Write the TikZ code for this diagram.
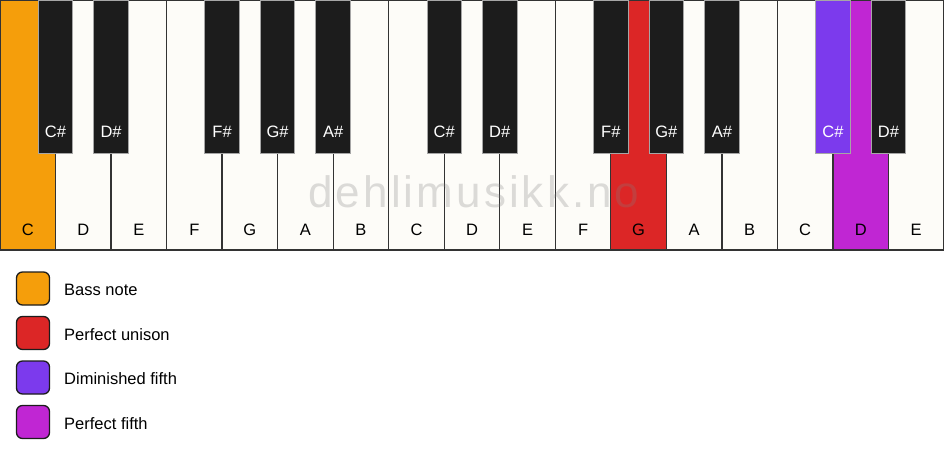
\documentclass[tikz,border=0pt]{standalone}
\usepackage{fontspec}
\setmainfont{Liberation Sans}
\newfontfamily\wmfont[LetterSpace=7]{Liberation Sans}
\definecolor{keyW}{HTML}{FDFCF8}
\definecolor{keyB}{HTML}{1C1C1C}
\definecolor{bassC}{HTML}{F59E0B}
\definecolor{unisonC}{HTML}{DC2626}
\definecolor{dimC}{HTML}{7C3AED}
\definecolor{fifthC}{HTML}{C026D3}
\definecolor{edgeC}{HTML}{333333}
\tikzset{
  whitekey/.style={draw=edgeC, line width=1.3pt, rectangle, inner sep=0pt,
    minimum width=55.53pt, minimum height=250pt},
  blackkey/.style={draw=gray!70, line width=0.9pt, rectangle, inner sep=0pt,
    minimum width=34.5pt, minimum height=153pt},
  keytext/.style={font=\fontsize{16.5}{20}\selectfont, inner sep=0pt},
  legbox/.style={draw=keyB, line width=1.3pt, rounded corners=6pt, rectangle,
    inner sep=0pt, minimum size=33pt},
  legtext/.style={font=\fontsize{16.5}{20}\selectfont, anchor=west, inner sep=0pt},
  watermark/.style={font=\wmfont\fontsize{44}{52}\selectfont, text=gray, opacity=0.27, inner sep=0pt, anchor=base}
}
\begin{document}
\begin{tikzpicture}[x=1pt,y=-1pt]
\useasboundingbox (0,0) rectangle (944,461);
\fill[white] (0,0) rectangle (944,461);
% white keys
\foreach \n/\c [count=\i from 0] in {C/bassC,D/keyW,E/keyW,F/keyW,G/keyW,A/keyW,B/keyW,C/keyW,D/keyW,E/keyW,F/keyW,G/unisonC,A/keyW,B/keyW,C/keyW,D/fifthC,E/keyW}{
  \node[whitekey, fill=\c] (w\i) at ({(\i+0.5)*944/17},125) {};
  \node[keytext] (wl\i) at ({(\i+0.5)*944/17},230) {\n};
}
% black keys
\foreach \b/\n/\c in {1/C\#/keyB,2/D\#/keyB,4/F\#/keyB,5/G\#/keyB,6/A\#/keyB,8/C\#/keyB,9/D\#/keyB,11/F\#/keyB,12/G\#/keyB,13/A\#/keyB,15/C\#/dimC,16/D\#/keyB}{
  \node[blackkey, fill=\c] (b\b) at ({\b*944/17},76.5) {};
  \node[keytext, text=white] (bl\b) at ({\b*944/17},132) {\n};
}
% watermark
\node[watermark] (wm) at (474,207) {dehlimusikk.no};
% legend
\node[legbox, fill=bassC] (lg1) at (33,288.5) {};
\node[legtext] (lt1) at (64,290) {Bass note};
\node[legbox, fill=unisonC] (lg2) at (33,333) {};
\node[legtext] (lt2) at (64,334.5) {Perfect unison};
\node[legbox, fill=dimC] (lg3) at (33,377.5) {};
\node[legtext] (lt3) at (64,379) {Diminished fifth};
\node[legbox, fill=fifthC] (lg4) at (33,422) {};
\node[legtext] (lt4) at (64,423.5) {Perfect fifth};
\end{tikzpicture}
\end{document}
